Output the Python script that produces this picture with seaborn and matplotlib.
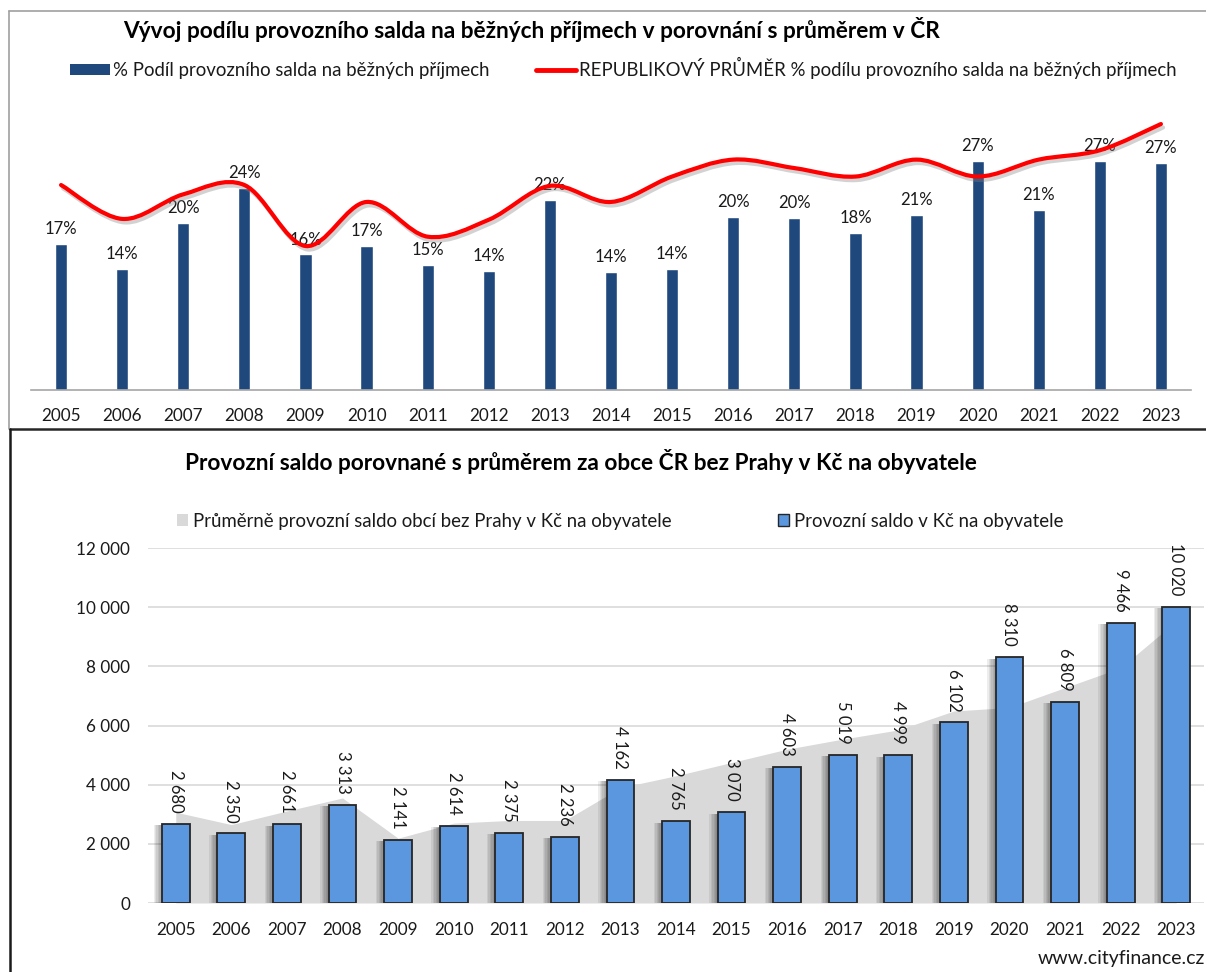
import matplotlib
matplotlib.use("Agg")
import matplotlib.pyplot as plt
import matplotlib.patheffects as pe
from matplotlib.path import Path
from matplotlib.patches import PathPatch, Patch
from matplotlib.lines import Line2D
import seaborn as sns

# ---- data -------------------------------------------------------------
years = [str(y) for y in range(2005, 2024)]

# share of operating balance in current revenue (%)
share_pct = [17.2, 14.3, 19.7, 23.8, 16.0, 17.0, 14.8, 14.1, 22.4, 13.9,
             14.3, 20.4, 20.3, 18.5, 20.7, 27.0, 21.2, 27.0, 26.8]
# national average of the same share (%)
republic_pct = [24.2, 20.2, 23.1, 24.2, 17.0, 22.2, 18.1, 20.1, 24.1, 22.2,
                25.2, 27.2, 26.2, 25.2, 27.2, 25.2, 27.2, 28.3, 31.4]

# operating balance per inhabitant (CZK)
saldo = [2680, 2350, 2661, 3313, 2141, 2614, 2375, 2236, 4162, 2765,
         3070, 4603, 5019, 4999, 6102, 8310, 6809, 9466, 10020]
# average of municipalities excluding Prague (CZK per inhabitant)
avg_saldo = [3070, 2650, 3110, 3550, 2190, 2700, 2790, 2790, 3900, 4300,
             4750, 5200, 5540, 5850, 6490, 6610, 7280, 7950, 9530]

bottom_ticks = [0, 2000, 4000, 6000, 8000, 10000, 12000]

title_top = "Vývoj podílu provozního salda na běžných příjmech v porovnání s průměrem v ČR"
legend_top = ["% Podíl provozního salda na běžných příjmech",
              "REPUBLIKOVÝ PRŮMĚR % podílu provozního salda na běžných příjmech"]
title_bottom = "Provozní saldo porovnané s průměrem za obce ČR bez Prahy v Kč na obyvatele"
legend_bottom = ["Průměrně provozní saldo obcí bez Prahy v Kč na obyvatele",
                 "Provozní saldo v Kč na obyvatele"]
source = "www.cityfinance.cz"

# ---- style ------------------------------------------------------------
sns.set_style("white")
plt.rcParams["font.family"] = ["Lato", "DejaVu Sans"]

W, H = 1206, 972
NAVY = "#1F497D"
RED = "#FF0000"
BLUE = "#5B97DE"
GREY_AREA = "#D9D9D9"
TXT = "#1A1A1A"
LEG_FS = 13.4


def fx(px):
    return px / W


def fy(py):
    return 1 - py / H


def fmt_thousands(v):
    return f"{int(v):,}".replace(",", " ")


fig = plt.figure(figsize=(W / 100, H / 100), dpi=100)

# ---- top chart: share bars + smoothed national average -----------------
ax1 = fig.add_axes([fx(30.5), fy(390), fx(1161), 288 / H])
sns.barplot(x=years, y=share_pct, color=NAVY, width=0.2, saturation=1,
            ax=ax1, zorder=2)
ax1.set_ylim(0, 34)
ax1.set_xlim(-0.5, len(years) - 0.5)
ax1.bar_label(ax1.containers[0],
              labels=[f"{round(v):.0f}%" for v in share_pct],
              padding=5, fontsize=12, color=TXT)

# smooth curve through the national average (Bezier segments)
xs = list(range(len(years)))
pts = list(zip(xs, republic_pct))
verts = [pts[0]]
codes = [Path.MOVETO]
n = len(pts)
for i in range(n - 1):
    p0 = pts[max(i - 1, 0)]
    p1 = pts[i]
    p2 = pts[i + 1]
    p3 = pts[min(i + 2, n - 1)]
    c1 = (p1[0] + (p2[0] - p0[0]) / 6, p1[1] + (p2[1] - p0[1]) / 6)
    c2 = (p2[0] - (p3[0] - p1[0]) / 6, p2[1] - (p3[1] - p1[1]) / 6)
    verts += [c1, c2, p2]
    codes += [Path.CURVE4] * 3
curve = PathPatch(Path(verts, codes), fill=False, edgecolor=RED, lw=3.0,
                  zorder=3, capstyle="round")
curve.set_path_effects([
    pe.SimpleLineShadow(offset=(1.5, -2.5), shadow_color="#808080", alpha=0.35),
    pe.Normal()])
ax1.add_patch(curve)

ax1.set_xlabel("")
ax1.set_ylabel("")
ax1.set_yticks([])
for s in ["top", "right", "left"]:
    ax1.spines[s].set_visible(False)
ax1.spines["bottom"].set_color("#A6A6A6")
ax1.spines["bottom"].set_linewidth(1.2)
ax1.tick_params(axis="x", length=0, pad=13, labelsize=12.3, labelcolor=TXT)

fig.text(fx(532), fy(30), title_top, ha="center", va="center",
         fontsize=16.3, fontweight="bold", color="black")

h_top = [Patch(facecolor=NAVY, edgecolor="none"),
         Line2D([0], [0], color=RED, lw=3.5)]
fig.legend(h_top, legend_top, loc="center left",
           bbox_to_anchor=(fx(70), fy(68)), ncol=2, frameon=False,
           fontsize=LEG_FS, handlelength=2.15, handleheight=0.6,
           handletextpad=0.16, columnspacing=2.5, borderpad=0,
           borderaxespad=0, labelcolor=TXT)

# ---- bottom chart: balance per inhabitant vs. average -----------------
ax2 = fig.add_axes([fx(148), fy(903), fx(1056), 355 / H])
ax2.fill_between(xs, avg_saldo, 0, color=GREY_AREA, lw=0, zorder=1)
sns.barplot(x=years, y=saldo, color=BLUE, width=0.5, saturation=1,
            edgecolor="#262626", linewidth=1.3, ax=ax2, zorder=2)
ax2.set_xlim(-0.5, len(years) - 0.5)
ax2.set_ylim(0, 12000)
ax2.set_yticks(bottom_ticks)
ax2.set_yticklabels([fmt_thousands(t) for t in bottom_ticks])
ax2.yaxis.grid(True, color="#D9D9D9", lw=1.2, zorder=0)
ax2.set_axisbelow(True)
for s in ["top", "right", "left", "bottom"]:
    ax2.spines[s].set_visible(False)
ax2.tick_params(axis="both", length=0, labelsize=12.3, labelcolor=TXT)
ax2.tick_params(axis="y", pad=13)
ax2.tick_params(axis="x", pad=14)
ax2.set_xlabel("")
ax2.set_ylabel("")

# soft shadow on the left of each bar
shadow = [pe.SimplePatchShadow(offset=(-k, -1), shadow_rgbFace="black",
                               alpha=0.07) for k in range(6, 0, -1)]
for bar in ax2.patches:
    bar.set_path_effects(shadow + [pe.Normal()])

for xi, v in zip(xs, saldo):
    ax2.annotate(fmt_thousands(v), xy=(xi, v), xytext=(0, 8),
                 textcoords="offset points", rotation=270,
                 rotation_mode="anchor", ha="right", va="center",
                 fontsize=12, color=TXT, annotation_clip=False)

fig.text(fx(581), fy(461), title_bottom, ha="center", va="center",
         fontsize=16.3, fontweight="bold", color="black")

h_bot = [Patch(facecolor=GREY_AREA, edgecolor="none"),
         Patch(facecolor=BLUE, edgecolor="#262626", lw=1.0)]
fig.legend(h_bot, legend_bottom, loc="center left",
           bbox_to_anchor=(fx(177), fy(521)), ncol=2, frameon=False,
           fontsize=LEG_FS, handlelength=0.59, handleheight=0.59,
           handletextpad=0.27, columnspacing=5.7, borderpad=0,
           borderaxespad=0, labelcolor=TXT)

fig.text(fx(1205), fy(958), source, ha="right", va="center",
         fontsize=14, color=TXT)

# ---- panel frames -----------------------------------------------------
fig.add_artist(Line2D([fx(9), fx(9)], [fy(11), fy(429)],
                      transform=fig.transFigure, color="#A0A0A0", lw=1.2))
fig.add_artist(Line2D([fx(9), fx(1206)], [fy(11), fy(11)],
                      transform=fig.transFigure, color="#A0A0A0", lw=1.2))
fig.add_artist(Line2D([fx(10), fx(1206)], [fy(429), fy(429)],
                      transform=fig.transFigure, color="#262626", lw=1.8))
fig.add_artist(Line2D([fx(10), fx(10)], [fy(429), fy(972)],
                      transform=fig.transFigure, color="#1A1A1A", lw=1.8))

fig.savefig("out.png", dpi=100)
